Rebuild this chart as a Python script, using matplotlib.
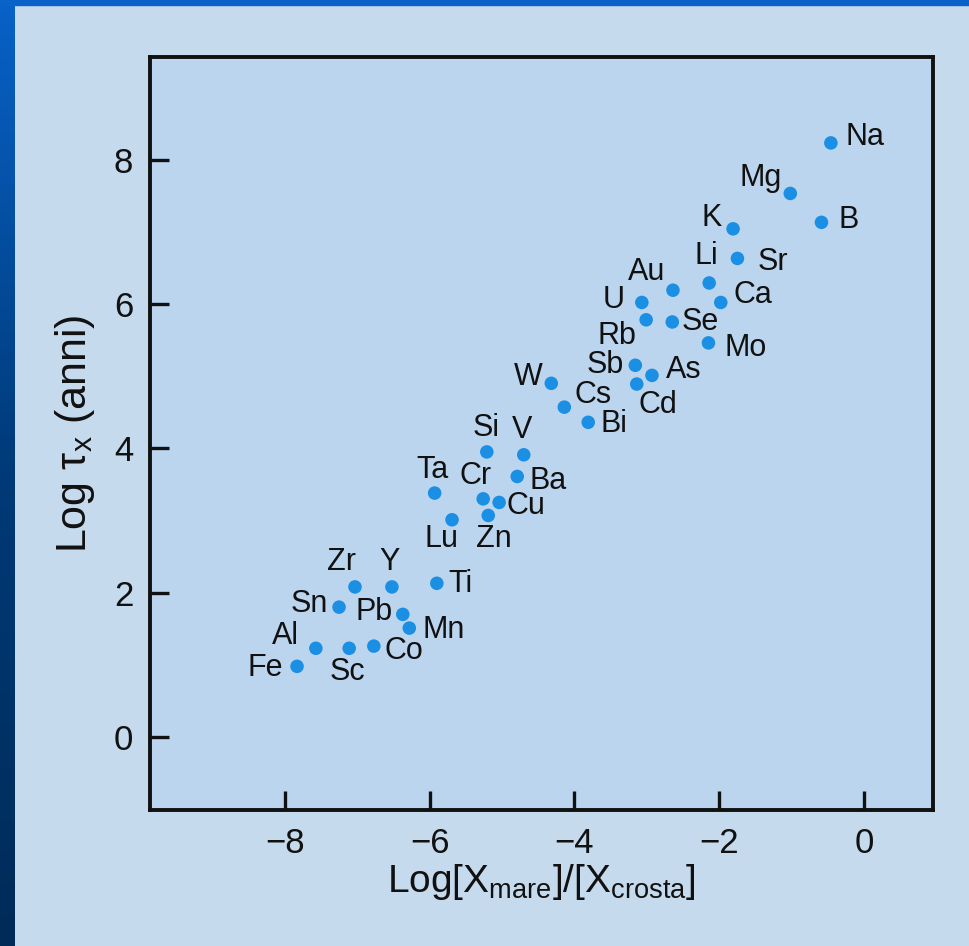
import numpy as np
import matplotlib
matplotlib.use("Agg")
import matplotlib.pyplot as plt

# element, log([X]sea/[X]crust), log(residence time / yr)
elements = ["Na", "Mg", "B", "K", "Sr", "Li", "Au", "Ca", "U", "Rb",
            "Se", "Mo", "Sb", "As", "Cd", "W", "Cs", "Bi", "Si", "V",
            "Ba", "Ta", "Cr", "Cu", "Zn", "Lu", "Ti", "Zr", "Y", "Sn",
            "Pb", "Mn", "Al", "Sc", "Co", "Fe"]
log_ratio = [-0.46, -1.02, -0.59, -1.81, -1.75, -2.14, -2.64, -1.98, -3.07, -3.01,
             -2.65, -2.15, -3.16, -2.93, -3.14, -4.32, -4.14, -3.81, -5.21, -4.70,
             -4.79, -5.93, -5.26, -5.04, -5.19, -5.69, -5.90, -7.03, -6.52, -7.25,
             -6.37, -6.28, -7.57, -7.11, -6.77, -7.83]
log_tau = [8.23, 7.53, 7.13, 7.04, 6.63, 6.29, 6.19, 6.02, 6.02, 5.78,
           5.75, 5.46, 5.15, 5.01, 4.89, 4.90, 4.57, 4.36, 3.95, 3.91,
           3.61, 3.38, 3.30, 3.25, 3.07, 3.01, 2.13, 2.08, 2.08, 1.80,
           1.70, 1.51, 1.23, 1.23, 1.26, 0.98]
x_ticks = [-8, -6, -4, -2, 0]
y_ticks = [0, 2, 4, 6, 8]

# label placement relative to its dot, in pixels (x right, y up)
label_offset = {
    "Na": (34, 6), "Mg": (-30, 15), "B": (27, 2), "K": (-21, 11),
    "Sr": (35, -4), "Li": (-3, 27), "Au": (-26, 18), "Ca": (32, 7),
    "U": (-28, 2), "Rb": (-29, -16), "Se": (28, 0), "Mo": (37, -5),
    "Sb": (-30, 0), "As": (32, 5), "Cd": (21, -21), "W": (-23, 6),
    "Cs": (29, 12), "Bi": (26, -2), "Si": (-1, 24), "V": (-2, 25),
    "Ba": (31, -5), "Ta": (-2, 23), "Cr": (-8, 23), "Cu": (27, -4),
    "Zn": (6, -24), "Lu": (-11, -19), "Ti": (24, -1), "Zr": (-13, 25),
    "Y": (-2, 25), "Sn": (-30, 3), "Pb": (-29, 2), "Mn": (34, -2),
    "Al": (-30, 12), "Sc": (-2, -24), "Co": (30, -5), "Fe": (-32, -2),
}

plt.rcParams["font.family"] = ["Liberation Sans", "DejaVu Sans"]
plt.rcParams["mathtext.fontset"] = "custom"
plt.rcParams["mathtext.rm"] = "Liberation Sans"
plt.rcParams["mathtext.it"] = "Liberation Sans:italic"

W, H = 970, 946
fig = plt.figure(figsize=(W / 100, H / 100), dpi=100)
fig.patch.set_facecolor("#c6daed")

# slide frame: blue strip on the left and on top
band = fig.add_axes([0, 0, 15 / W, 1])
grad = np.linspace(0, 1, 256).reshape(-1, 1)
band.imshow(grad, aspect="auto", extent=[0, 1, 0, 1], origin="upper",
            cmap=matplotlib.colors.LinearSegmentedColormap.from_list(
                "band", ["#0862c8", "#003a78", "#002b58"]))
band.set_axis_off()
fig.add_artist(plt.Rectangle((0, 1 - 5 / H), 1, 5 / H, transform=fig.transFigure,
                             color="#0862c8", zorder=5))

ax = fig.add_axes([150 / W, 1 - 810 / H, (933 - 150) / W, (810 - 57) / H])
ax.set_facecolor("#bcd5ee")
ax.scatter(log_ratio, log_tau, s=95, color="#1b8fe3", edgecolors="none", zorder=3)
for el, xv, yv in zip(elements, log_ratio, log_tau):
    dx, dy = label_offset[el]
    ax.annotate(el, (xv, yv), xytext=(dx, dy), textcoords="offset pixels",
                ha="center", va="center", fontsize=22, color="#111111")

ax.set_xlim(-9.86, 0.95)
ax.set_ylim(-1.01, 9.42)
ax.set_xticks(x_ticks)
ax.set_yticks(y_ticks)
ax.set_xticklabels([f"\u2212{abs(t)}" if t < 0 else str(t) for t in x_ticks])
ax.tick_params(direction="in", length=14, width=2.4, labelsize=25,
               colors="#111111")
ax.tick_params(axis="x", pad=12)
ax.tick_params(axis="y", pad=12)
for sp in ax.spines.values():
    sp.set_linewidth(2.8)
    sp.set_color("#111111")

ax.set_xlabel(r"Log[X$_{\mathrm{mare}}$]/[X$_{\mathrm{crosta}}$]",
              fontsize=28, color="#111111", labelpad=2)
ax.set_ylabel("Log \u03c4$_{\\mathrm{x}}$ (anni)", fontsize=31,
              color="#111111", labelpad=12)

fig.savefig("out.png", dpi=100, facecolor=fig.get_facecolor())
